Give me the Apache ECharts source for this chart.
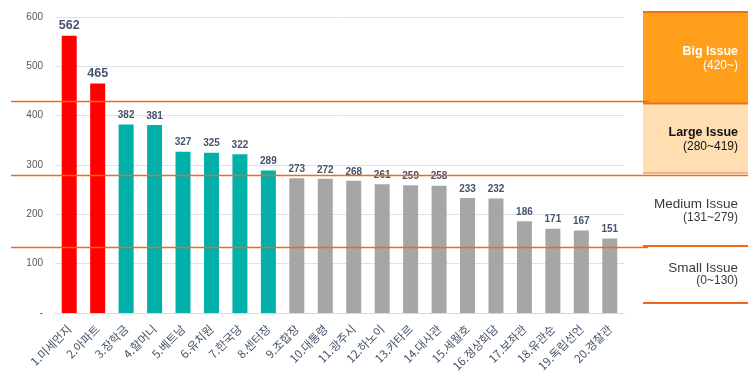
<!DOCTYPE html>
<html>
<head>
<meta charset="utf-8">
<script src="https://cdn.jsdelivr.net/npm/echarts@6/dist/echarts.min.js"></script>
<style>html,body{margin:0;padding:0;background:#fff;}#c{width:754px;height:378px;}</style>
</head>
<body>
<div id="c"></div>
<script>
const categories = ['1.미세먼지','2.아파트','3.장학금','4.할머니','5.베트남','6.유치원','7.한국당','8.센터장','9.조합장','10.대통령','11.광주시','12.하노이','13.카타르','14.대사관','15.세월호','16.정상회담','17.보좌관','18.유관순','19.독립선언','20.경찰관'];
const values = [562,465,382,381,327,325,322,289,273,272,268,261,259,258,233,232,186,171,167,151];
const thresholdLines = [430, 279, 133];
const levelBreaks = [420, 280];
const yTicks = [0,100,200,300,400,500,600];

const RED = '#FF0000', TEAL = '#00B0A9', GRAY = '#A6A6A6', ORANGE = '#F26A14';
function barColor(v){ return v >= levelBreaks[0] ? RED : (v >= levelBreaks[1] ? TEAL : GRAY); }

const chart = echarts.init(document.getElementById('c'), null, {renderer:'canvas'});
const option = {
  animation: false,
  grid: {left: 55, right: 130, top: 17, bottom: 65, containLabel: false},
  xAxis: {
    type: 'category', data: categories,
    axisLine: {lineStyle: {color: '#D9D9D9', width: 1}},
    axisTick: {show: false},
    axisLabel: {rotate: 45, interval: 0, margin: 14, fontSize: 11.5, color: '#44546A',
      fontFamily: '"Noto Sans CJK KR", sans-serif'}
  },
  yAxis: {
    type: 'value', min: yTicks[0], max: yTicks[yTicks.length-1], interval: 100,
    axisLine: {show: false}, axisTick: {show: false},
    axisLabel: {margin: 12, fontSize: 10, color: '#595959', fontFamily: '"Liberation Sans", Arial, sans-serif',
      formatter: v => v === 0 ? '-' : String(v)},
    splitLine: {lineStyle: {color: '#DDE2E8', width: 1}}
  },
  series: [{
    type: 'bar', barWidth: 15,
    data: values.map((v, i) => ({
      value: v,
      itemStyle: {color: barColor(v)},
      label: {fontSize: v >= levelBreaks[0] ? 12.5 : 10}
    })),
    label: {show: true, position: 'top', distance: 4, fontWeight: 'bold', color: '#44546A',
      fontFamily: '"Liberation Sans", Arial, sans-serif'}
  }]
};
chart.setOption(option);

const lineEnds = [649, 748, 648];
const graphics = [];
thresholdLines.forEach((t, i) => {
  const y = Math.round(chart.convertToPixel({yAxisIndex: 0}, t)) + 0.5;
  graphics.push({type: 'line', z: 100, shape: {x1: 11, y1: y, x2: lineEnds[i], y2: y},
    style: {stroke: ORANGE, lineWidth: 1.3}});
});
// right-hand issue panel
graphics.push(
  {type: 'rect', z: 90, shape: {x: 643, y: 12, width: 105, height: 92}, style: {fill: '#FF9F1C'}},
  {type: 'line', z: 91, shape: {x1: 643, y1: 12, x2: 748, y2: 12}, style: {stroke: '#F07012', lineWidth: 2}},
  {type: 'line', z: 91, shape: {x1: 643, y1: 103.5, x2: 748, y2: 103.5}, style: {stroke: '#F07012', lineWidth: 2}},
  {type: 'rect', z: 90, shape: {x: 643, y: 104.5, width: 105, height: 68}, style: {fill: '#FFDEB1'}},
  {type: 'line', z: 91, shape: {x1: 643, y1: 173, x2: 748, y2: 173}, style: {stroke: ORANGE, lineWidth: 1}},
  {type: 'line', z: 91, shape: {x1: 643, y1: 246, x2: 748, y2: 246}, style: {stroke: ORANGE, lineWidth: 2}},
  {type: 'line', z: 91, shape: {x1: 643, y1: 303, x2: 748, y2: 303}, style: {stroke: ORANGE, lineWidth: 2}}
);
const panelTexts = [
  ['Big Issue', 52, '#FFFFFF', 'bold', 12.5],
  ['(420~)', 66, '#FFFFFF', 'normal', 12],
  ['Large Issue', 133, '#111111', 'bold', 12.5],
  ['(280~419)', 147, '#111111', 'normal', 12],
  ['Medium Issue', 204, '#3A3A3A', 'normal', 13.5],
  ['(131~279)', 218, '#3A3A3A', 'normal', 12],
  ['Small Issue', 268, '#3A3A3A', 'normal', 13.5],
  ['(0~130)', 281, '#3A3A3A', 'normal', 12]
];
panelTexts.forEach(([t, y, c, w, fs]) => {
  graphics.push({type: 'text', z: 95, x: 738, y: y,
    style: {text: t, fill: c, fontWeight: w, fontSize: fs, align: 'right', verticalAlign: 'middle',
      fontFamily: '"Liberation Sans", Arial, sans-serif'}});
});
chart.setOption({graphic: graphics});
</script>
</body>
</html>
